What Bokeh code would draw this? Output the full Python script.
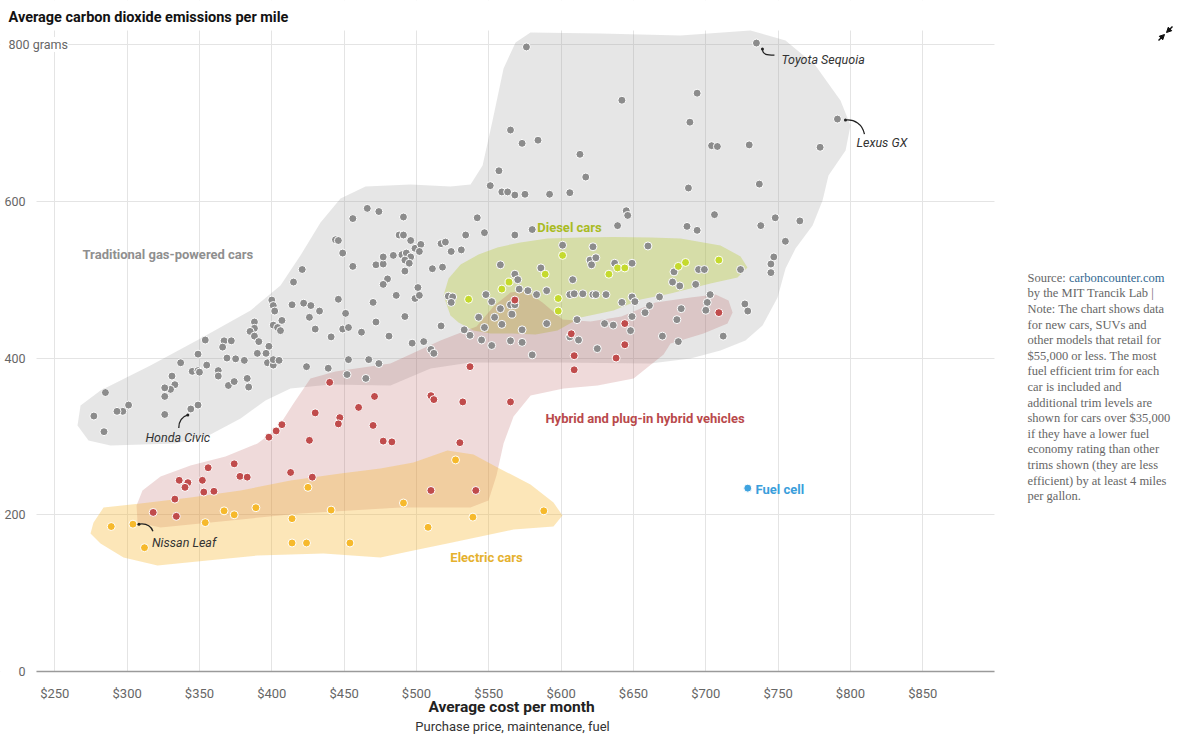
from bokeh.plotting import figure
from bokeh.models import (Range1d, FixedTicker, Label, NumeralTickFormatter, BoxAnnotation,
                          Arrow, NormalHead)
from bokeh.embed import file_html
from bokeh.resources import INLINE

# ---------------- data (average cost per month $, CO2 grams per mile) -------------
gas_cost = [466, 474, 456, 444, 446, 449, 456, 472, 477, 477, 421, 415, 480, 477, 446, 414, 422, 427, 433, 426,
            470, 451, 472, 400, 401, 402, 407, 401, 404, 406, 430, 449, 453, 462, 441, 481, 388, 388, 385, 388,
            391, 398, 354, 367, 372, 366, 390, 396, 349, 369, 375, 381, 397, 401, 401, 405, 424, 439, 453, 467,
            474, 337, 355, 345, 349, 350, 363, 363, 383, 331, 333, 330, 326, 326, 370, 374, 384, 452, 465, 285,
            301, 297, 293, 277, 326, 344, 349, 284,
            576, 642, 565, 573, 584, 613, 617, 557, 551, 559, 563, 568, 575, 592, 606, 645, 646, 639, 580, 491,
            542, 547, 534, 568, 488, 491, 496, 499, 503, 502, 517, 520, 524, 531, 490, 493, 496, 492, 495, 484,
            511, 518, 492, 501, 499, 502, 486, 522, 525, 524, 492, 517, 497, 505, 510, 512, 601, 622, 660, 620,
            624, 621, 558, 586, 568, 570, 608, 637, 649, 548, 552, 571, 577, 583, 590, 606, 609, 615, 622, 624,
            631, 642, 649, 651, 668, 661, 658, 558, 565, 568, 566, 554, 543, 559, 547, 533, 537, 573, 590, 611,
            545, 552, 565, 573, 580, 612, 606, 625, 630, 636, 648, 649, 670,
            735, 694, 689, 791, 704, 708, 730, 779, 688, 737, 706, 687, 694, 738, 748, 765, 755, 747, 745, 745,
            724, 695, 699, 678, 677, 682, 693, 703, 701, 700, 683, 680, 681, 727, 729, 712]
gas_em = [591, 587, 578, 551, 550, 534, 517, 519, 520, 529, 513, 497, 501, 494, 475, 468, 470, 467, 460, 452,
          471, 457, 446, 474, 467, 460, 448, 442, 439, 435, 437, 437, 439, 433, 427, 428, 446, 438, 434, 428,
          421, 415, 423, 422, 422, 414, 406, 406, 405, 400, 399, 397, 394, 391, 398, 397, 389, 387, 398, 398,
          393, 394, 391, 383, 384, 382, 384, 377, 374, 377, 366, 360, 362, 351, 365, 370, 363, 379, 374, 356,
          340, 332, 332, 326, 328, 335, 340, 306,
          797, 729, 691, 674, 678, 660, 631, 639, 620, 612, 612, 608, 609, 609, 611, 588, 582, 569, 564, 580,
          579, 560, 557, 557, 557, 557, 550, 540, 545, 536, 546, 548, 536, 538, 532, 534, 529, 525, 521, 531,
          514, 516, 511, 490, 476, 480, 480, 479, 478, 471, 453, 441, 419, 421, 411, 406, 544, 542, 543, 525,
          528, 519, 519, 515, 507, 500, 500, 521, 521, 481, 472, 488, 486, 481, 486, 481, 482, 482, 481, 481,
          481, 471, 478, 472, 478, 467, 458, 463, 468, 468, 456, 452, 452, 443, 439, 436, 429, 436, 444, 449,
          423, 416, 422, 420, 404, 423, 427, 412, 444, 442, 435, 453, 428,
          802, 738, 701, 705, 671, 670, 672, 669, 617, 622, 583, 568, 563, 569, 579, 575, 549, 529, 520, 509,
          513, 513, 513, 510, 497, 492, 494, 481, 471, 461, 463, 449, 421, 469, 460, 428]

diesel_cost = [601, 589, 564, 559, 536, 598, 598, 633, 639, 644, 681, 686, 709]
diesel_em = [531, 507, 497, 488, 475, 476, 460, 507, 515, 515, 517, 522, 525]

hybrid_cost = [440, 471, 460, 430, 447, 446, 470, 407, 403, 398, 426, 477, 374, 356, 413, 378, 383, 428, 336, 342,
               340, 352, 353, 360, 333, 318, 334, 568, 607, 644, 644, 609, 638, 609, 537, 510, 512, 532, 565, 483,
               530, 510, 541, 709]
hybrid_em = [369, 351, 337, 330, 324, 316, 314, 315, 307, 299, 295, 294, 265, 260, 254, 249, 248, 248, 244, 241,
             235, 244, 229, 230, 220, 203, 198, 474, 431, 444, 417, 403, 400, 385, 389, 352, 347, 344, 344, 293,
             292, 231, 231, 458]

electric_cost = [527, 491, 539, 508, 588, 425, 389, 367, 374, 441, 354, 414, 289, 304, 312, 414, 424, 454]
electric_em = [270, 215, 197, 184, 205, 235, 209, 205, 200, 206, 190, 195, 185, 188, 158, 164, 164, 164]

fuelcell_cost = [729]
fuelcell_em = [234]

labeled_models = ["Toyota Sequoia", "Lexus GX", "Honda Civic", "Nissan Leaf"]
labeled_cost = [735, 791, 344, 304]
labeled_em = [802, 705, 335, 188]

# shaded group outlines (cost, grams)
gas_area_cost = [265.7, 267.8, 281.6, 316.1, 350.7, 385.3, 406, 419.8, 433.7, 447.5, 464.8, 495.9, 523.5, 537.4,
                 545.7, 552.6, 560.2, 568.5, 578.8, 627.2, 682.5, 730.9, 755.1, 775.8, 793.1, 800, 796.6, 784.8,
                 780.7, 773.8, 762, 755.1, 749.6, 739.2, 727.4, 710.1, 689.4, 661.7, 599.5, 537.3, 509.7, 482,
                 440.6, 412.9, 395.6, 378.4, 357.6, 333.4, 288.5, 273.3]
gas_area_em = [314, 339.5, 358.7, 390.6, 425, 460.7, 492.7, 531, 573.1, 603.7, 619, 621.6, 619, 621.6,
               645.8, 703.2, 769.6, 802.8, 815.5, 814.3, 811.7, 818, 805.3, 773.4, 728.7, 696.9, 664.9, 633,
               601.1, 569.2, 539.8, 514.3, 477.3, 441.6, 422.5, 409.7, 399.5, 393.1, 394.4, 394.4, 386.7, 365,
               366.3, 361.2, 345.9, 322.9, 302.5, 291, 288.5, 294.8]
diesel_area_cost = [518.7, 522.2, 530.5, 542.9, 556, 571.9, 590.6, 613.4, 636.2, 661.8, 682.5, 710.1, 724, 728.8,
                    721.9, 703.2, 675.6, 654.9, 636.2, 613.4, 597.5, 582.3, 567.1, 551.2, 539.4, 529.1, 523.5]
diesel_area_em = [479.9, 501.6, 519.5, 532.3, 541.2, 547.6, 552.7, 554, 554.6, 554, 552.6, 543.7, 529.7, 515.6,
                  502.9, 495.2, 482.4, 474.8, 460.8, 451.8, 435.2, 430.1, 431.4, 431.4, 435.2, 445.5, 454.4]
hybrid_area_cost = [307.2, 306.5, 310.6, 323.1, 343.8, 368, 390.1, 403.9, 415, 426.7, 444, 482, 516.6, 541.5,
                    553.9, 565, 575.4, 587.1, 601, 620.3, 641.7, 665.2, 689.4, 706.7, 715.7, 718.5, 715, 698.4,
                    675.6, 670.8, 650.1, 625.2, 601.7, 578.9, 567.1, 560.2, 555.3, 549.8, 537.3, 489, 419.8,
                    350.7, 323.1]
hybrid_area_em = [190.2, 211.9, 231, 248.9, 262.9, 274.4, 291, 310.1, 342, 373.9, 382.9, 393.1, 422.5, 440.3,
                  467.1, 483.7, 486.2, 470.9, 449.3, 446.7, 453.1, 470.9, 477.3, 481.1, 473.4, 458.2, 444.2, 431.4,
                  418.6, 404.6, 374, 365, 361.2, 352.3, 325.5, 291, 250.2, 218.2, 209.3, 209.3, 201.7,
                  188.9, 183.8]
electric_area_cost = [276.7, 283.7, 309.2, 343.8, 378.4, 412.9, 447.5, 475.1, 497.9, 521.4, 539.4, 556, 578.8,
                      594.7, 600.9, 594.7, 567.1, 544.3, 521.4, 497.9, 475.1, 435.7, 390.1, 355.5, 321, 297.5,
                      281.6, 274.7]
electric_area_em = [189.8, 209.3, 214.4, 222.1, 231, 243.8, 252.7, 259.1, 266.7, 282.1, 277, 260.4, 238.7,
                    215.7, 199.1, 185.1, 181.2, 172.3, 163.4, 154.4, 145.5, 150.6, 148, 141.6, 135.2, 145.5,
                    163.4, 176.1]

x_ticks = [250, 300, 350, 400, 450, 500, 550, 600, 650, 700, 750, 800, 850]
y_ticks = [0, 200, 400, 600, 800]

note_lines = ["Source: ", "by the MIT Trancik Lab |", "Note: The chart shows data", "for new cars, SUVs and",
              "other models that retail for", "$55,000 or less. The most", "fuel efficient trim for each",
              "car is included and", "additional trim levels are", "shown for cars over $35,000",
              "if they have a lower fuel", "economy rating than other", "trims shown (they are less",
              "efficient) by at least 4 miles", "per gallon."]

# ---------------- layout geometry -------------
W, H = 1177, 734
PLOT_X0, PLOT_X1 = 237.35, 899.55      # visible cost span of the chart area
PLOT_Y1 = 818                          # top of chart area (grams)
PXX = 958 / (PLOT_X1 - PLOT_X0)        # px per $
PXY = 641 / PLOT_Y1                    # px per gram
XS = PLOT_X0 - 36 / PXX
XE = XS + W / PXX
YE = 671 / PXY
YS = YE - H / PXY


def sx(px):
    return XS + px / PXX


def sy(py):
    return YE - py / PXY


p = figure(width=W, height=H, x_range=Range1d(XS, XE), y_range=Range1d(YS, YE),
           output_backend="svg", toolbar_location=None, min_border=0)
p.outline_line_color = None
p.background_fill_color = "white"
p.border_fill_color = "white"

SANS = "Roboto"

p.xaxis.ticker = FixedTicker(ticks=x_ticks)
p.yaxis.ticker = FixedTicker(ticks=y_ticks)
p.xgrid.ticker = FixedTicker(ticks=x_ticks)
p.ygrid.ticker = FixedTicker(ticks=y_ticks)
p.xaxis.formatter = NumeralTickFormatter(format="$0")
p.yaxis.major_label_overrides = {800: ""}
p.xaxis.fixed_location = 0
p.yaxis.fixed_location = PLOT_X0
p.xaxis.bounds = (PLOT_X0, PLOT_X1)
for g in (p.xgrid, p.ygrid):
    g.grid_line_color = "#e4e4e4"
    g.grid_line_width = 1
for ax in (p.xaxis, p.yaxis):
    ax.major_tick_line_color = None
    ax.minor_tick_line_color = None
    ax.major_label_text_font = SANS
    ax.major_label_text_color = "#666666"
p.xaxis.major_label_text_font_size = "13px"
p.yaxis.major_label_text_font_size = "12.5px"
p.xaxis.axis_line_color = "#9a9a9a"
p.xaxis.axis_line_width = 1.5
p.yaxis.axis_line_color = None
p.xaxis.major_label_standoff = 8
p.yaxis.major_label_standoff = 5

# white margins hide the grid outside the chart area
for kw in (dict(right=PLOT_X0), dict(left=PLOT_X1), dict(bottom=PLOT_Y1), dict(top=0)):
    p.add_layout(BoxAnnotation(fill_color="white", fill_alpha=1, line_color=None, level="underlay", **kw))

# shaded areas
p.patch(gas_area_cost, gas_area_em, fill_color="#8c8c8c", fill_alpha=0.22, line_color=None)
p.patch(diesel_area_cost, diesel_area_em, fill_color="#b8cc33", fill_alpha=0.35, line_color=None)
p.patch(hybrid_area_cost, hybrid_area_em, fill_color="#b04848", fill_alpha=0.2, line_color=None)
p.patch(electric_area_cost, electric_area_em, fill_color="#f7b733", fill_alpha=0.35, line_color=None)

# points
pt = dict(size=8, line_color="white", line_width=1)
p.scatter(gas_cost, gas_em, fill_color="#8c8c8c", **pt)
p.scatter(diesel_cost, diesel_em, fill_color="#c5da2e", **pt)
p.scatter(hybrid_cost, hybrid_em, fill_color="#c04c4c", **pt)
p.scatter(electric_cost, electric_em, fill_color="#f6b92c", **pt)
p.scatter(fuelcell_cost, fuelcell_em, fill_color="#3fa3df", **pt)


def at(cx, cy, dx, dy):
    return cx + dx / PXX, cy - dy / PXY


# connector offsets (px: start, c0, c1, end) and label offset / alignment
conn = {
    "Toyota Sequoia": ((6, 6), (6, 12), (11, 12), (18, 12), (25, 16), "left"),
    "Lexus GX": ((8, 1), (17, 0), (25, 5), (27, 15), (19, 23), "left"),
    "Honda Civic": ((-3, 6), (-9, 8), (-12, 13), (-12, 19), (-13, 29), "center"),
    "Nissan Leaf": ((6, 0), (13, -1), (18, 2), (20, 7), (19, 18), "left"),
}
for name, cx, cy in zip(labeled_models, labeled_cost, labeled_em):
    s, c0, c1, e, t, al = conn[name]
    x0, y0 = at(cx, cy, *s)
    xa, ya = at(cx, cy, *c0)
    xb, yb = at(cx, cy, *c1)
    x1, y1 = at(cx, cy, *e)
    p.bezier(x0=[x0], y0=[y0], x1=[x1], y1=[y1], cx0=[xa], cy0=[ya], cx1=[xb], cy1=[yb],
             line_color="#222222", line_width=1.3)
    p.scatter([x0], [y0], size=3, fill_color="#222222", line_color=None)
    tx, ty = at(cx, cy, *t)
    p.add_layout(Label(x=tx, y=ty, text=name, text_font=SANS, text_font_style="italic",
                       text_font_size="12.5px", text_color="#333333", text_align=al,
                       text_baseline="middle"))

# group labels (pixel anchor positions)
grp = [("Traditional gas-powered cars", 82, 254, "#8f8f8f", "left"),
       ("Diesel cars", 569, 227, "#a9bb22", "center"),
       ("Hybrid and plug-in hybrid vehicles", 644.5, 418, "#b9494b", "center"),
       ("Electric cars", 486, 557, "#e5b12e", "center"),
       ("Fuel cell", 755, 489, "#3a9edb", "left")]
for txt, gx, gy, col, al in grp:
    p.add_layout(Label(x=sx(gx), y=sy(gy), text=txt, text_font=SANS, text_font_style="bold",
                       text_font_size="13px", text_color=col, text_align=al, text_baseline="middle"))

# titles
p.add_layout(Label(x=sx(8), y=sy(17), text="Average carbon dioxide emissions per mile", text_font=SANS,
                   text_font_style="bold", text_font_size="14.5px", text_color="#121212",
                   text_align="left", text_baseline="middle"))
p.add_layout(Label(x=sx(8), y=800, text="800 grams", text_font=SANS, text_font_size="12.5px",
                   text_color="#666666", text_align="left", text_baseline="middle",
                   background_fill_color="white", background_fill_alpha=1.0))
p.add_layout(Label(x=sx(511), y=sy(706), text="Average cost per month", text_font=SANS,
                   text_font_style="bold", text_font_size="15.5px", text_color="#222222",
                   text_align="center", text_baseline="middle"))
p.add_layout(Label(x=sx(512), y=sy(726), text="Purchase price, maintenance, fuel", text_font=SANS,
                   text_font_size="13px", text_color="#333333", text_align="center",
                   text_baseline="middle"))

# note at right
for i, line in enumerate(note_lines):
    p.add_layout(Label(x=sx(1027), y=sy(277.3 + i * 15.6), text=line, text_font="Liberation Serif",
                       text_font_size="12.5px", text_color="#666666", text_align="left",
                       text_baseline="middle"))
p.add_layout(Label(x=sx(1027 + 41.5), y=sy(277.3), text="carboncounter.com", text_font="Liberation Serif",
                   text_font_size="12.5px", text_color="#326891", text_align="left",
                   text_baseline="middle"))

# collapse icon (top right)
for (ax0, ay0, ax1, ay1) in ((1172, 26, 1166, 32), (1158, 40, 1164, 34)):
    p.add_layout(Arrow(x_start=sx(ax0), y_start=sy(ay0), x_end=sx(ax1), y_end=sy(ay1),
                       line_color="#111111", line_width=1.5,
                       end=NormalHead(size=5, fill_color="#111111", line_color="#111111")))

open("out.html", "w").write(file_html(p, INLINE))
